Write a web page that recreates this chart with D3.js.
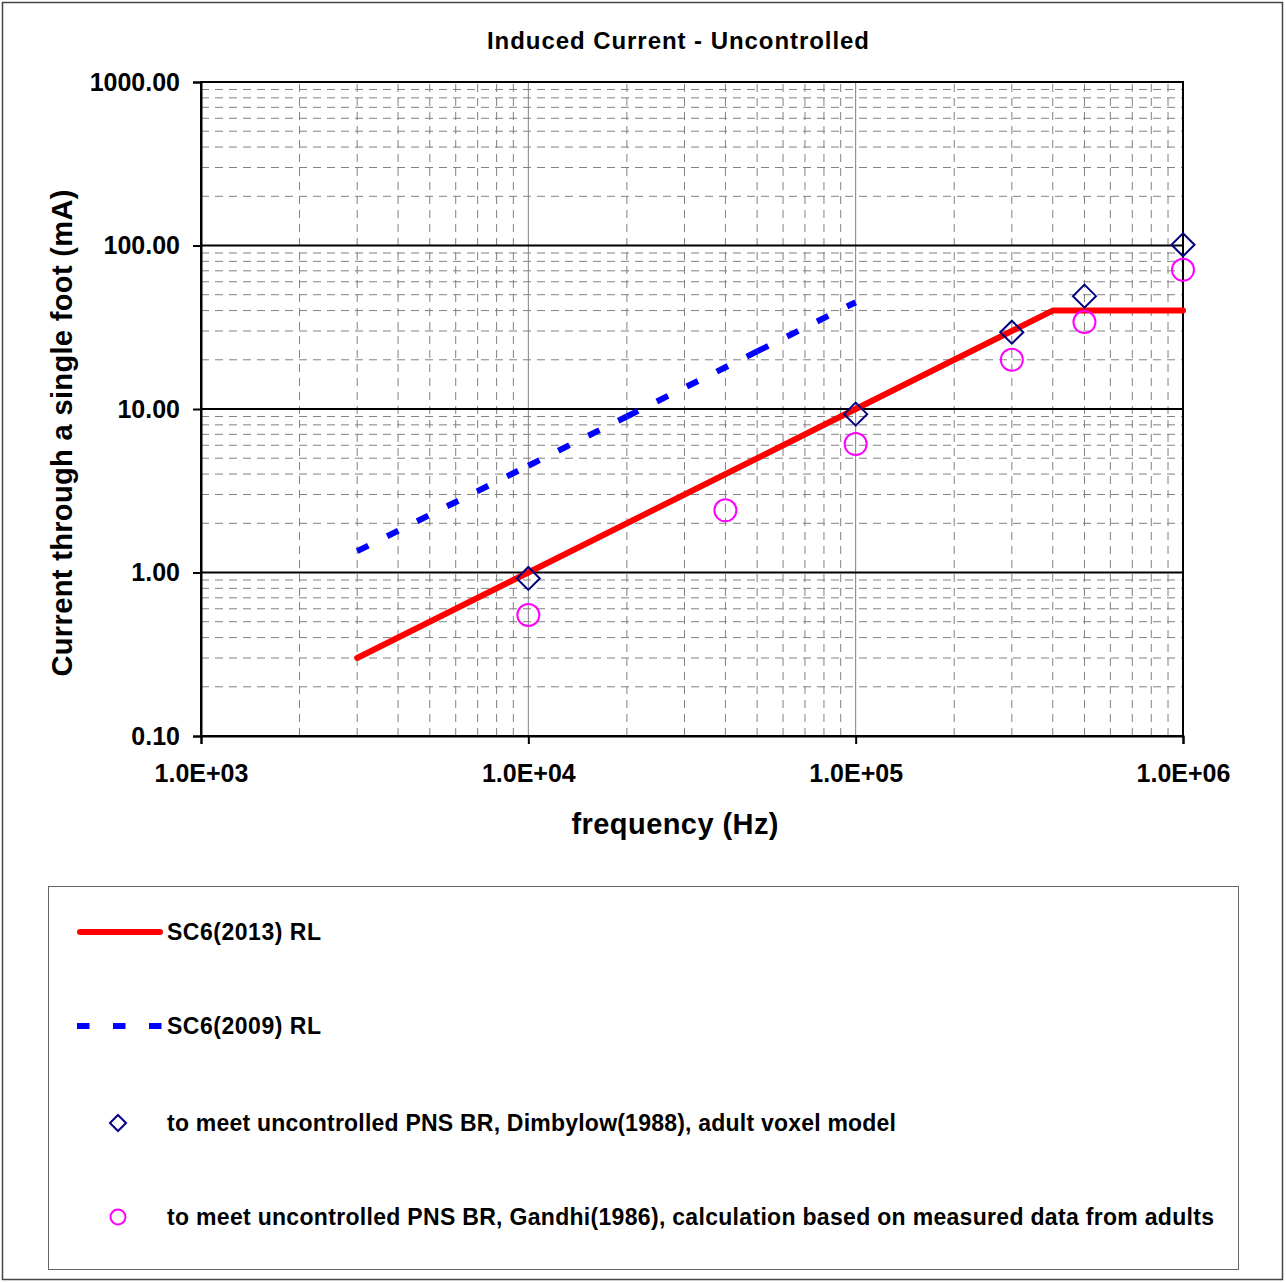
<!DOCTYPE html>
<html>
<head>
<meta charset="utf-8">
<script src="https://cdn.jsdelivr.net/npm/d3@7"></script>
<style>
  body { margin: 0; background: #fff; }
  svg { display: block; font-family: "Liberation Sans", Arial, sans-serif; font-weight: bold; }
</style>
</head>
<body>
<svg id="chart" width="1286" height="1283"></svg>
<script>
// ---- data ----
const freqTicks = [1e3, 1e4, 1e5, 1e6];
const freqTickLabels = ["1.0E+03", "1.0E+04", "1.0E+05", "1.0E+06"];
const currentTicks = [0.1, 1, 10, 100, 1000];
const currentTickLabels = ["0.10", "1.00", "10.00", "100.00", "1000.00"];

const sc2013Freq = [3000, 10000, 100000, 400000, 1000000];
const sc2013Current = [0.3, 1, 10, 40, 40];

const sc2009Freq = [3000, 10000, 20000, 50000, 100000];
const sc2009Current = [1.35, 4.5, 9, 22.5, 45];

const dimbylowFreq = [1e4, 1e5, 3e5, 5e5, 1e6];
const dimbylowCurrent = [0.92, 9.3, 29.5, 49, 101];

const gandhiFreq = [1e4, 4e4, 1e5, 3e5, 5e5, 1e6];
const gandhiCurrent = [0.55, 2.4, 6.1, 20, 34, 71];

const legendLabels = [
  "SC6(2013) RL",
  "SC6(2009) RL",
  "to meet uncontrolled PNS BR, Dimbylow(1988), adult voxel model",
  "to meet uncontrolled PNS BR, Gandhi(1986), calculation based on measured data from adults"
];

// ---- layout ----
const svg = d3.select("#chart");
const PLOT = {left: 201, right: 1183, top: 82, bottom: 736};

const x = d3.scaleLog().domain([1e3, 1e6]).range([PLOT.left, PLOT.right]);
const y = d3.scaleLog().domain([0.1, 1000]).range([PLOT.bottom, PLOT.top]);

// outer frame
svg.append("rect")
  .attr("x", 2.5).attr("y", 2.5).attr("width", 1280).attr("height", 1277)
  .attr("fill", "none").attr("stroke", "#444").attr("stroke-width", 1.5);

// title
svg.append("text")
  .attr("x", 678).attr("y", 49)
  .attr("text-anchor", "middle")
  .attr("font-size", 24)
  .attr("textLength", 382).attr("lengthAdjust", "spacing")
  .text("Induced Current - Uncontrolled");

// ---- grid ----
const grid = svg.append("g");
const isDecade = v => Math.abs(Math.log10(v) - Math.round(Math.log10(v))) < 1e-9;
const xMinor = x.ticks().filter(v => !isDecade(v));
const yMinor = y.ticks().filter(v => !isDecade(v));

grid.selectAll(".hminor").data(yMinor).enter().append("line")
  .attr("x1", PLOT.left).attr("x2", PLOT.right)
  .attr("y1", d => y(d)).attr("y2", d => y(d))
  .attr("stroke", "#808080").attr("stroke-width", 1)
  .attr("stroke-dasharray", "8,6");

grid.selectAll(".vminor").data(xMinor).enter().append("line")
  .attr("x1", d => x(d)).attr("x2", d => x(d))
  .attr("y1", PLOT.bottom).attr("y2", PLOT.top)
  .attr("stroke", "#808080").attr("stroke-width", 1)
  .attr("stroke-dasharray", "8,6");

grid.selectAll(".vmajor").data(freqTicks.slice(1, -1)).enter().append("line")
  .attr("x1", d => x(d)).attr("x2", d => x(d))
  .attr("y1", PLOT.bottom).attr("y2", PLOT.top)
  .attr("stroke", "#808080").attr("stroke-width", 1);

grid.selectAll(".hmajor").data(currentTicks.slice(1)).enter().append("line")
  .attr("x1", PLOT.left).attr("x2", PLOT.right)
  .attr("y1", d => y(d)).attr("y2", d => y(d))
  .attr("stroke", "#000").attr("stroke-width", 2);

// plot area frame
svg.append("rect")
  .attr("x", PLOT.left).attr("y", PLOT.top)
  .attr("width", PLOT.right - PLOT.left).attr("height", PLOT.bottom - PLOT.top)
  .attr("fill", "none").attr("stroke", "#000").attr("stroke-width", 2);

// ---- axes ----
const xAxis = svg.append("g")
  .attr("transform", `translate(0,${PLOT.bottom})`)
  .call(d3.axisBottom(x).tickValues(freqTicks)
    .tickFormat((d, i) => freqTickLabels[i]).tickSize(8).tickPadding(20));
xAxis.selectAll("path, line").attr("stroke", "#000").attr("stroke-width", 2);
xAxis.selectAll("text").attr("font-size", 25).attr("font-family", null).attr("fill", "#000");

const yAxis = svg.append("g")
  .attr("transform", `translate(${PLOT.left},0)`)
  .call(d3.axisLeft(y).tickValues(currentTicks)
    .tickFormat((d, i) => currentTickLabels[i]).tickSize(8).tickPadding(13));
yAxis.selectAll("path, line").attr("stroke", "#000").attr("stroke-width", 2);
yAxis.selectAll("text").attr("font-size", 25).attr("font-family", null).attr("fill", "#000");

// axis titles
svg.append("text")
  .attr("x", 675).attr("y", 834)
  .attr("text-anchor", "middle").attr("font-size", 29)
  .attr("textLength", 207).attr("lengthAdjust", "spacing")
  .text("frequency (Hz)");

svg.append("text")
  .attr("transform", "translate(72,433) rotate(-90)")
  .attr("text-anchor", "middle").attr("font-size", 29)
  .attr("textLength", 487).attr("lengthAdjust", "spacing")
  .text("Current through a single foot (mA)");

// ---- series ----
const line = d3.line().x(d => x(d[0])).y(d => y(d[1]));
const sc2013 = d3.zip(sc2013Freq, sc2013Current);
const sc2009 = d3.zip(sc2009Freq, sc2009Current);

// 2009 line: dash pattern restarts at every vertex, as in the source
const segs = d3.pairs(sc2009);
svg.append("g").selectAll("path").data(segs).enter().append("path")
  .attr("d", d => line(d))
  .attr("fill", "none").attr("stroke", "#0000FF").attr("stroke-width", 6)
  .attr("stroke-dasharray", "12.5,21");

svg.append("path")
  .attr("d", line(sc2013))
  .attr("fill", "none").attr("stroke", "#FF0000").attr("stroke-width", 6)
  .attr("stroke-linecap", "round").attr("stroke-linejoin", "round");

const diamond = s => `M0,${-s}L${s},0L0,${s}L${-s},0Z`;

svg.append("g").selectAll("path").data(d3.zip(dimbylowFreq, dimbylowCurrent)).enter().append("path")
  .attr("transform", d => `translate(${x(d[0])},${y(d[1])})`)
  .attr("d", diamond(11.5))
  .attr("fill", "none").attr("stroke", "#000080").attr("stroke-width", 2);

svg.append("g").selectAll("circle").data(d3.zip(gandhiFreq, gandhiCurrent)).enter().append("circle")
  .attr("cx", d => x(d[0])).attr("cy", d => y(d[1]))
  .attr("r", 11)
  .attr("fill", "none").attr("stroke", "#FF00FF").attr("stroke-width", 2);

// ---- legend ----
const legend = svg.append("g");
legend.append("rect")
  .attr("x", 48.5).attr("y", 886.5).attr("width", 1190).attr("height", 383)
  .attr("fill", "#fff").attr("stroke", "#666").attr("stroke-width", 1);

const rowY = [932, 1026, 1123, 1217];
const textLen = [154, 154, 729, 1047];

legend.append("line")
  .attr("x1", 80).attr("x2", 160).attr("y1", rowY[0]).attr("y2", rowY[0])
  .attr("stroke", "#FF0000").attr("stroke-width", 6).attr("stroke-linecap", "round");
legend.append("line")
  .attr("x1", 77).attr("x2", 162).attr("y1", rowY[1]).attr("y2", rowY[1])
  .attr("stroke", "#0000FF").attr("stroke-width", 6).attr("stroke-dasharray", "12.5,23.5");
legend.append("path")
  .attr("transform", `translate(118,${rowY[2]})`)
  .attr("d", diamond(8))
  .attr("fill", "none").attr("stroke", "#000080").attr("stroke-width", 2);
legend.append("circle")
  .attr("cx", 118).attr("cy", rowY[3]).attr("r", 7.5)
  .attr("fill", "none").attr("stroke", "#FF00FF").attr("stroke-width", 2);

legend.selectAll("text.lbl").data(legendLabels).enter().append("text")
  .attr("class", "lbl")
  .attr("x", 167).attr("y", (d, i) => rowY[i] + 8)
  .attr("font-size", 23)
  .attr("textLength", (d, i) => textLen[i]).attr("lengthAdjust", "spacing")
  .text(d => d);
</script>
</body>
</html>
